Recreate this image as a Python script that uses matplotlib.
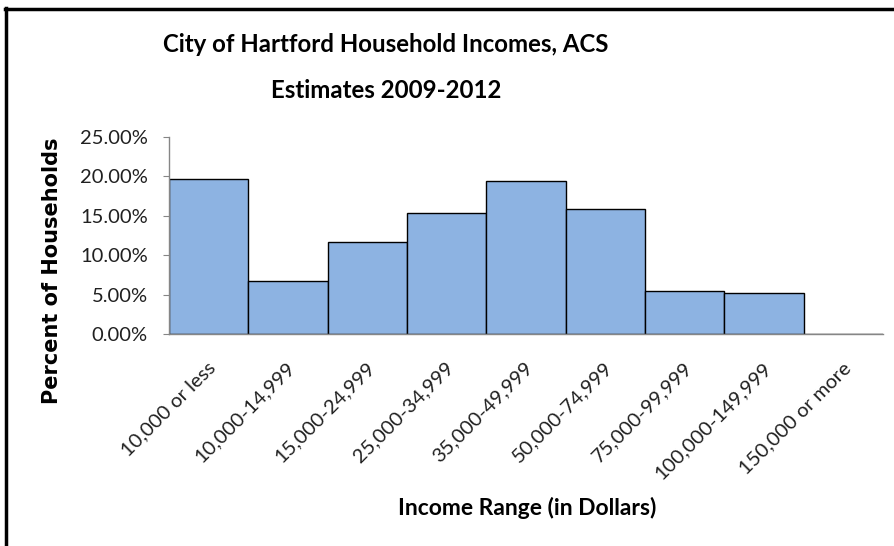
import matplotlib.pyplot as plt
import matplotlib.transforms as mtrans
from matplotlib.lines import Line2D
from matplotlib.ticker import PercentFormatter

plt.rcParams['font.family'] = ['Lato', 'DejaVu Sans']

income_ranges = ['10,000 or less', '10,000-14,999', '15,000-24,999',
                 '25,000-34,999', '35,000-49,999', '50,000-74,999',
                 '75,000-99,999', '100,000-149,999', '150,000 or more']
pct_households = [19.7, 6.8, 11.75, 15.35, 19.45, 15.9, 5.5, 5.2, 0.0]
y_ticks = [0, 5, 10, 15, 20, 25]

BAR_COLOR = '#8db3e2'
AXIS_COLOR = '#868686'

fig = plt.figure(figsize=(8.95, 5.46), dpi=100)
ax = fig.add_axes([0.1888, 0.3874, 0.798, 0.3617])

x = range(len(income_ranges))
ax.bar(x, pct_households, width=1.0, color=BAR_COLOR,
       edgecolor='black', linewidth=1.0, zorder=2)

ax.set_xlim(-0.5, len(income_ranges) - 0.5)
ax.set_ylim(0, 25)
ax.set_yticks(y_ticks)
ax.yaxis.set_major_formatter(PercentFormatter(decimals=2))
ax.tick_params(axis='y', length=4.3, color=AXIS_COLOR, labelsize=14.5,
               labelcolor='#202020', pad=11)
ax.tick_params(axis='x', length=0, pad=4)

ax.set_xticks(list(x))
ax.set_xticklabels(income_ranges, rotation=45, ha='right', va='center',
                   rotation_mode='anchor', fontsize=14.5, color='#202020')
# push the slanted labels a little further below the axis
offset = mtrans.ScaledTranslation(3 / 72, -18 / 72, fig.dpi_scale_trans)
for lbl in ax.get_xticklabels():
    lbl.set_transform(lbl.get_transform() + offset)

for side in ('top', 'right'):
    ax.spines[side].set_visible(False)
for side in ('left', 'bottom'):
    ax.spines[side].set_color(AXIS_COLOR)
    ax.spines[side].set_linewidth(1.0)

fig.text(0.431, 0.918, 'City of Hartford Household Incomes, ACS',
         ha='center', va='center', fontsize=17.3, fontweight='bold')
fig.text(0.431, 0.835, 'Estimates 2009-2012',
         ha='center', va='center', fontsize=17.3, fontweight='bold')
fig.text(0.058, 0.505, 'Percent of Households', rotation=90,
         ha='center', va='center', fontsize=15, fontweight='bold',
         family='DejaVu Sans')
fig.text(0.589, 0.07, 'Income Range (in Dollars)',
         ha='center', va='center', fontsize=16.5, fontweight='bold')

# page border around the chart
fig.add_artist(Line2D([0.006, 1.0], [0.984, 0.984], color='black',
                      linewidth=2.5, transform=fig.transFigure))
fig.add_artist(Line2D([0.0067, 0.0067], [0.0, 0.986], color='black',
                      linewidth=2.5, transform=fig.transFigure))

fig.savefig('out.png', dpi=100)
